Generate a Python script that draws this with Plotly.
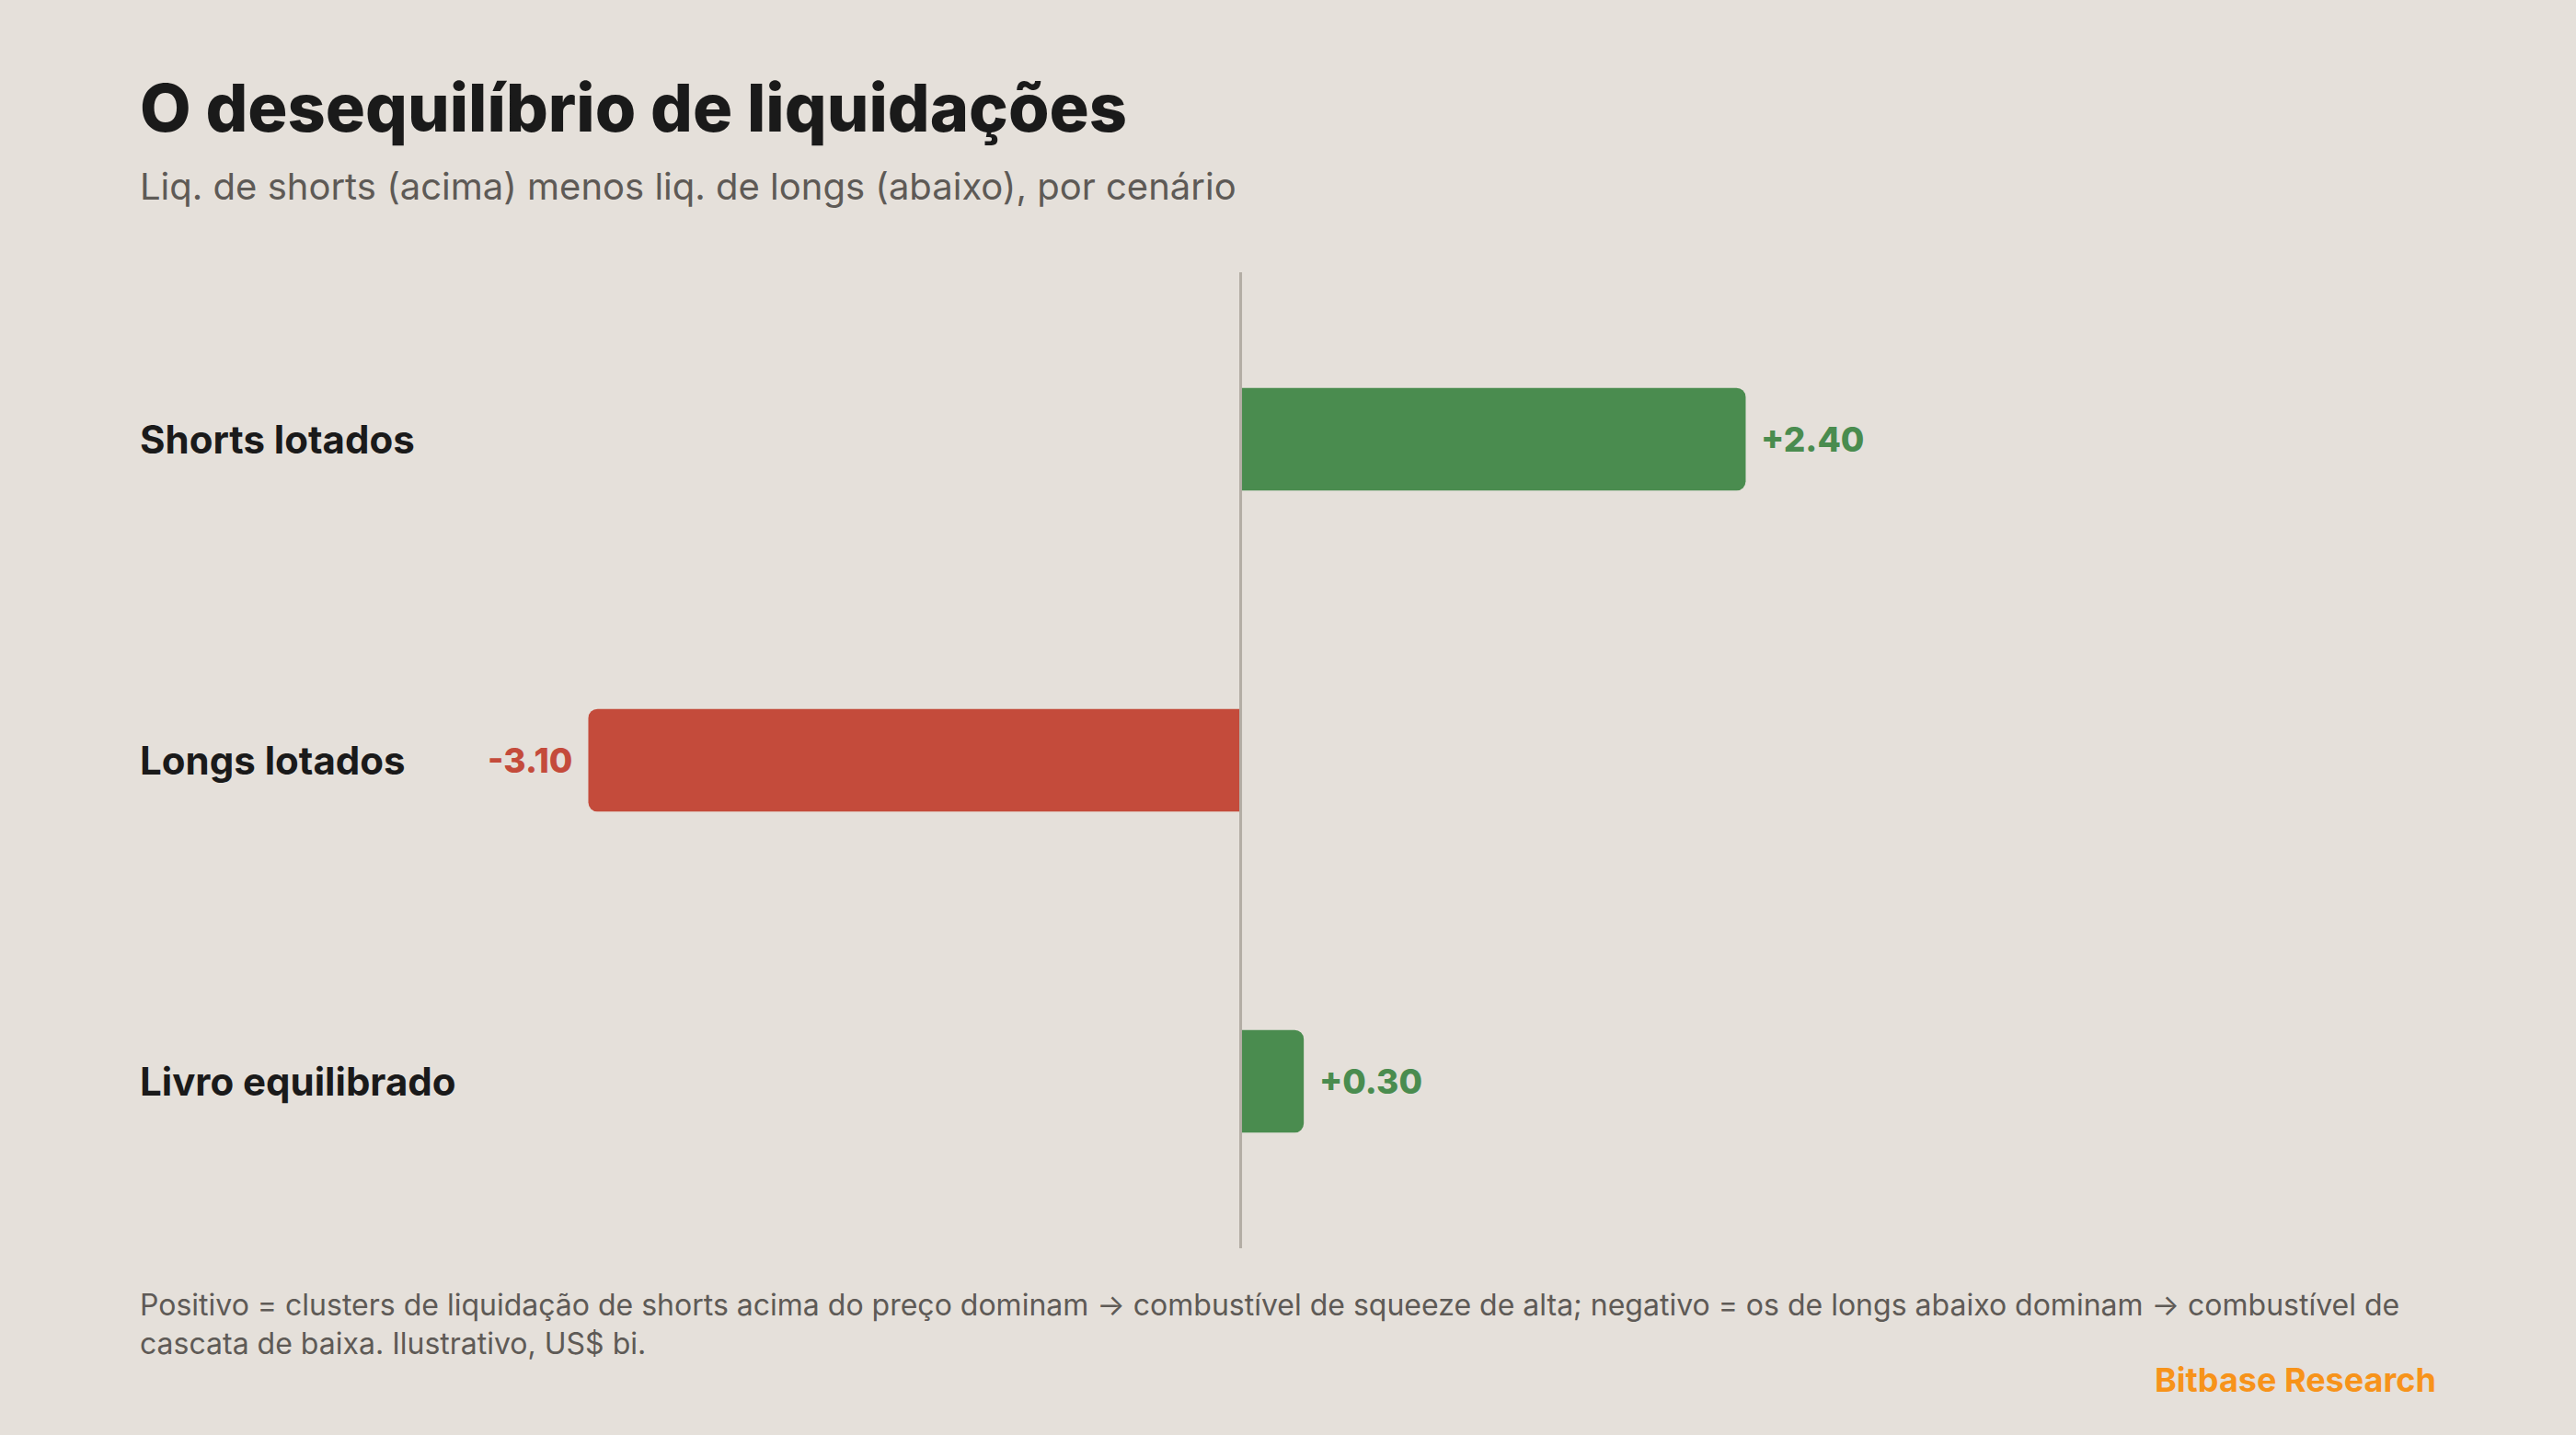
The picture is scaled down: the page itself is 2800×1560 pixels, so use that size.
import plotly.graph_objects as go

# scenario data (US$ bi, illustrative)
scenarios = ['Shorts lotados', 'Longs lotados', 'Livro equilibrado']
imbalance = [2.40, -3.10, 0.30]
value_labels = ['+2.40', '-3.10', '+0.30']

GREEN = '#4A8C4F'
RED = '#C44B3B'
BG = '#E5E0DA'
FONT = 'Inter, Lato, sans-serif'

colors = [GREEN if v >= 0 else RED for v in imbalance]

fig = go.Figure()
fig.add_trace(go.Bar(
    x=imbalance, y=scenarios, orientation='h',
    marker=dict(color=colors, cornerradius=10, line=dict(width=0)),
    width=0.32, hoverinfo='skip',
))

# value labels next to the bar ends
for s, v, lab, c in zip(scenarios, imbalance, value_labels, colors):
    fig.add_annotation(
        x=v, y=s, xref='x', yref='y', text=lab,
        showarrow=False, xanchor='left' if v >= 0 else 'right',
        xshift=15 if v >= 0 else -15,
        font=dict(family=FONT, size=37, color=c, weight=800),
    )

# category labels, left aligned at the plot edge
for s in scenarios:
    fig.add_annotation(
        x=0, y=s, xref='paper', yref='y', text=s,
        showarrow=False, xanchor='left',
        font=dict(family=FONT, size=42, color='#1A1A1A', weight=700),
    )

# zero line
fig.add_shape(type='line', x0=0, x1=0, xref='x', y0=0, y1=1, yref='paper',
              line=dict(color='#B3ADA4', width=3))

fig.add_annotation(x=0, y=1.0, xref='paper', yref='paper', yshift=180,
                   text='O desequilíbrio de liquidações', showarrow=False,
                   xanchor='left', yanchor='middle',
                   font=dict(family=FONT, size=72, color='#1A1A1A', weight=800))
fig.add_annotation(x=0, y=1.0, xref='paper', yref='paper', yshift=94,
                   text='Liq. de shorts (acima) menos liq. de longs (abaixo), por cenário',
                   showarrow=False, xanchor='left', yanchor='middle',
                   font=dict(family=FONT, size=40, color='#5E5A56'))
fig.add_annotation(x=0, y=0, xref='paper', yref='paper', yshift=-82,
                   text='Positivo = clusters de liquidação de shorts acima do preço dominam → combustível de squeeze de alta; negativo = os de longs abaixo dominam → combustível de<br>cascata de baixa. Ilustrativo, US$ bi.',
                   showarrow=False, xanchor='left', yanchor='middle', align='left',
                   font=dict(family=FONT, size=32, color='#5E5A56'))
fig.add_annotation(x=1, y=0, xref='paper', yref='paper', yshift=-143,
                   text='Bitbase Research', showarrow=False,
                   xanchor='right', yanchor='middle',
                   font=dict(family=FONT, size=36, color='#F7931A', weight=700))

fig.update_layout(
    width=2800, height=1560,
    margin=dict(l=150, r=150, t=296, b=203),
    paper_bgcolor=BG, plot_bgcolor=BG,
    showlegend=False,
    font=dict(family=FONT),
)
fig.update_xaxes(range=[-5.24, 5.69], visible=False, fixedrange=True)
fig.update_yaxes(range=[2.52, -0.52], visible=False, fixedrange=True,
                 categoryorder='array', categoryarray=scenarios)

# drop the default page margin so the chart sits flush in the window
fig.write_html("out.html", config={'displayModeBar': False},
               post_script="document.body.style.margin='0';")
